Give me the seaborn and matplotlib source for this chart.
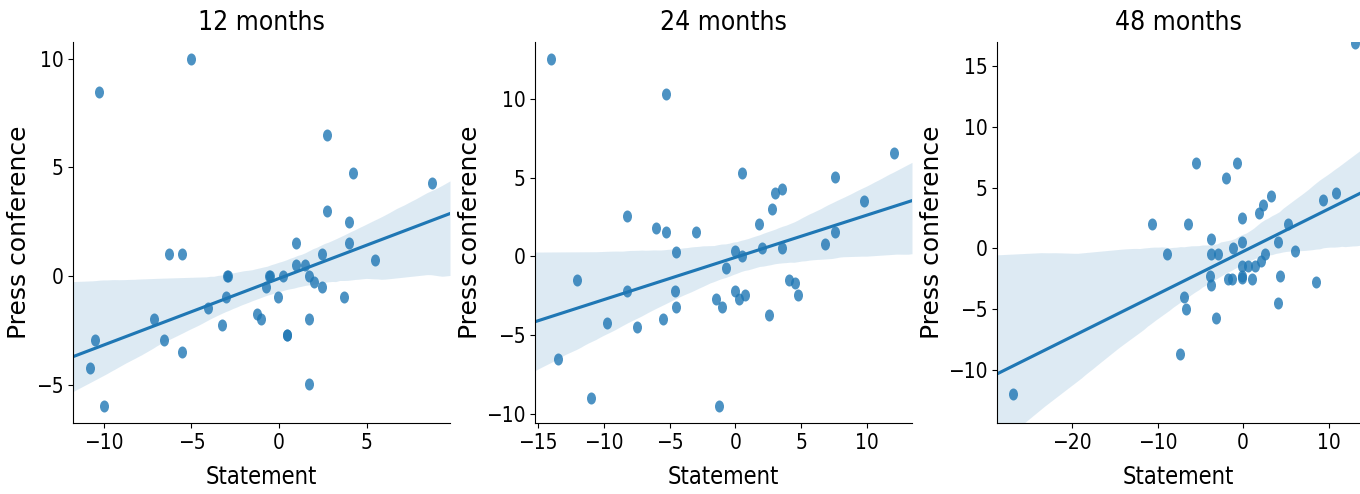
import matplotlib
matplotlib.use("Agg")
import matplotlib.pyplot as plt
from matplotlib.path import Path
from matplotlib.transforms import Affine2D
from matplotlib.ticker import MultipleLocator
import seaborn as sns
import numpy as np
import pandas as pd

# statement vs press conference surprises
stmt_12 = [-10.29, -5.03, -10.77, -10.52, -10.0, -7.16, -6.55, -6.27, -5.54, -5.54,
           -4.03, -3.27, -2.98, -2.9, -3.02, -1.27, -1.03, -0.76, -0.55, -0.5,
           -0.04, 0.23, 0.44, 0.44, 0.97, 0.97, 1.48, 1.73, 1.96, 1.73,
           1.73, 2.47, 2.47, 2.72, 2.72, 3.97, 3.97, 3.72, 4.23, 5.47, 8.71]
press_12 = [8.47, 9.97, -4.24, -2.97, -5.97, -1.98, -2.97, 1.0, 1.0, -3.49,
            -1.49, -2.24, 0.0, 0.0, -0.98, -1.73, -1.98, -0.52, 0.0, 0.0,
            -0.98, 0.0, -2.74, -2.74, 1.52, 0.5, 0.5, 0.0, -0.26, -1.99,
            -4.99, 1.01, -0.51, 6.48, 3.0, 2.5, 1.52, -0.98, 4.75, 0.75, 4.26]

stmt_24 = [-14.01, -13.5, -12.0, -10.97, -9.75, -8.23, -8.23, -7.47, -6.0, -5.5,
           -5.24, -5.24, -4.48, -4.58, -4.48, -2.99, -1.49, -1.24, -0.99, -0.73,
           0.0, 0.0, 0.25, 0.51, 0.51, 0.76, 1.77, 2.03, 2.51, 2.76,
           3.01, 3.52, 3.52, 4.03, 4.53, 4.76, 6.76, 7.52, 7.52, 9.75, 12.0]
press_24 = [12.54, -6.51, -1.48, -8.99, -4.23, 2.54, -2.22, -4.48, 1.78, -3.97,
            10.32, 1.54, 0.27, -2.22, -3.21, 1.54, -2.71, -9.51, -3.21, -0.76,
            -2.22, 0.32, -2.71, 0.0, 5.29, -2.47, 2.05, 0.53, -3.74, 3.02,
            4.04, 4.29, 0.53, -1.48, -1.71, -2.47, 0.8, 5.03, 1.54, 3.53, 6.55]

stmt_48 = [-26.92, -10.67, -8.92, -7.44, -6.93, -6.7, -6.43, -5.46, -3.93, -3.74,
           -3.74, -3.74, -3.19, -2.92, -1.95, -1.75, -1.25, -1.21, -0.7, -0.19,
           -0.19, -0.19, -0.19, -0.19, 0.51, 1.05, 1.4, 1.83, 2.06, 2.3,
           2.61, 3.31, 4.09, 4.32, 4.09, 5.3, 6.08, 8.53, 9.31, 10.83, 13.09]
press_48 = [-11.97, 2.0, -0.49, -8.71, -3.97, -5.01, 2.0, 7.01, -2.25, 0.77,
            -0.49, -3.01, -5.73, -0.49, 5.78, -2.49, -2.49, 0.0, 7.01, 2.49,
            0.55, -1.48, -2.25, -2.47, -1.48, -2.49, -1.48, 2.9, -1.01, 3.53,
            -0.49, 4.27, 0.52, -2.25, -4.49, 2.0, -0.25, -2.74, 4.0, 4.52, 16.93]

titles = ["12 months", "24 months", "48 months"]
xlims = [(-11.75, 9.74), (-15.22, 13.4), (-28.8, 13.67)]
ylims = [(-6.77, 10.77), (-10.57, 13.6), (-14.38, 16.99)]
xsteps = [5, 5, 10]
# axes boxes in pixels: left, right
boxes = [(73, 450), (535, 912), (997, 1360)]
blue = "#1f77b4"


def huber(x, y, t=1.345, iters=50):
    # Huber M-estimator via IRLS (what regplot(robust=True) asks statsmodels for)
    X = np.column_stack([np.ones_like(x), x])
    beta = np.linalg.lstsq(X, y, rcond=None)[0]
    for _ in range(iters):
        r = y - X @ beta
        s = np.median(np.abs(r)) / 0.6745
        if s == 0:
            break
        u = np.abs(r / s)
        w = np.where(u <= t, 1.0, t / np.maximum(u, 1e-12))
        Xw = X * w[:, None]
        new = np.linalg.solve(X.T @ Xw, Xw.T @ y)
        done = np.allclose(new, beta, atol=1e-8)
        beta = new
        if done:
            break
    return beta


def robust_band(x, y, grid, n_boot=1000, seed=0):
    x, y = np.asarray(x, float), np.asarray(y, float)
    a, b = huber(x, y)
    rng = np.random.default_rng(seed)
    boots = np.empty((n_boot, len(grid)))
    for k in range(n_boot):
        idx = rng.integers(0, len(x), len(x))
        ab, bb = huber(x[idx], y[idx])
        boots[k] = ab + bb * grid
    lo, hi = np.percentile(boots, [2.5, 97.5], axis=0)
    return a + b * grid, lo, hi


plt.rcParams["xtick.labelsize"] = 15
plt.rcParams["ytick.labelsize"] = 15

fig, axes = plt.subplots(1, 3, figsize=(13.6, 4.94), dpi=100)

# the reference dots are a little taller than wide
oval = Path.unit_circle().transformed(Affine2D().scale(0.75, 1.0))

data = [(stmt_12, press_12), (stmt_24, press_24), (stmt_48, press_48)]
for i, ax in enumerate(axes):
    xs, ys = data[i]
    l, r = boxes[i]
    ax.set_position([l / 1360, 1 - 423 / 494, (r - l) / 1360, (423 - 42) / 494])
    df = pd.DataFrame({"Statement": xs, "Press conference": ys})
    sns.scatterplot(data=df, x="Statement", y="Press conference", ax=ax,
                    marker=oval, s=75, color=blue, alpha=0.8, linewidth=0)
    grid = np.linspace(xlims[i][0], xlims[i][1], 100)
    yhat, lo, hi = robust_band(xs, ys, grid)
    ax.fill_between(grid, lo, hi, color=blue, alpha=0.15, linewidth=0)
    sns.lineplot(x=grid, y=yhat, ax=ax, color=blue, linewidth=2.25)
    ax.set_xlim(xlims[i])
    ax.set_ylim(ylims[i])
    ax.xaxis.set_major_locator(MultipleLocator(xsteps[i]))
    ax.yaxis.set_major_locator(MultipleLocator(5))
    ax.set_title(titles[i], fontsize=19, fontstretch="condensed", pad=9)
    ax.set_xlabel("Statement", fontsize=17, fontstretch="condensed", labelpad=9)
    ax.set_ylabel("Press conference", fontsize=18, labelpad=3)
    for lab in ax.get_xticklabels() + ax.get_yticklabels():
        lab.set_fontstretch("condensed")
    sns.despine(ax=ax)

fig.savefig("out.png", dpi=100)
